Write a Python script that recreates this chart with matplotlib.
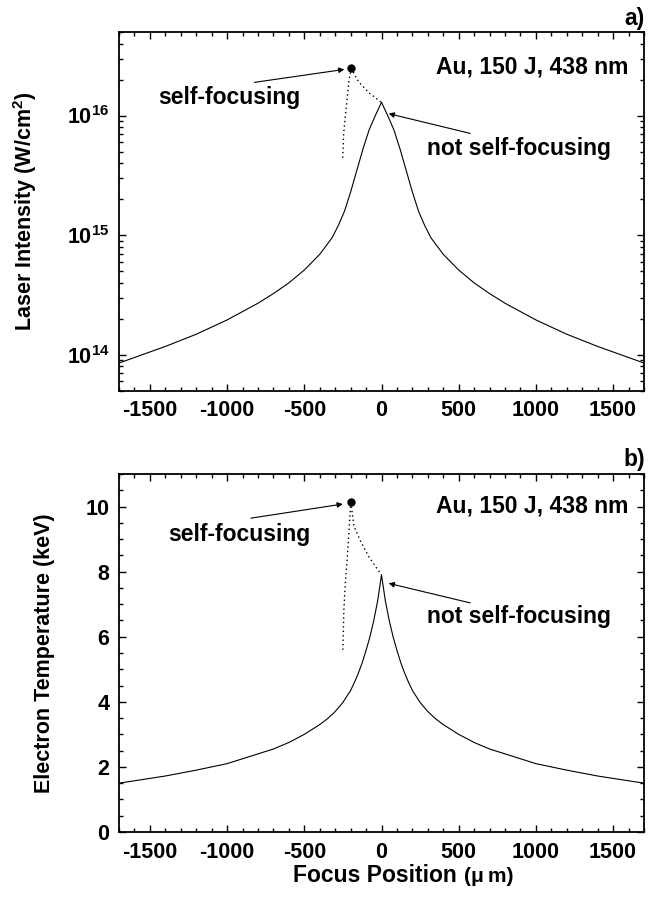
import matplotlib
matplotlib.use("Agg")
import matplotlib.pyplot as plt
from matplotlib.ticker import MultipleLocator, LogLocator, NullFormatter

plt.rcParams['font.family'] = ['Liberation Sans', 'DejaVu Sans']
plt.rcParams['font.weight'] = 'bold'
plt.rcParams['axes.unicode_minus'] = False
plt.rcParams['mathtext.fontset'] = 'custom'
plt.rcParams['mathtext.rm'] = 'Liberation Sans:bold'
plt.rcParams['mathtext.bf'] = 'Liberation Sans:bold'
plt.rcParams['mathtext.it'] = 'Liberation Sans:bold:italic'

# focus position (um)
pos = [-1700, -1400, -1200, -1000, -800, -700, -600, -500, -400, -320, -280, -240,
       -200, -160, -120, -80, -40, 0, 40, 80, 120, 160, 200, 240, 280, 320,
       400, 500, 600, 700, 800, 1000, 1200, 1400, 1700]

# laser intensity, not self-focusing (W/cm^2)
intensity = [8.5e13, 1.17e14, 1.48e14, 1.95e14, 2.69e14, 3.24e14, 3.98e14, 5.1e14,
             6.9e14, 9.5e14, 1.2e15, 1.58e15, 2.29e15, 3.47e15, 5.25e15, 7.6e15,
             1.0e16, 1.29e16, 1.0e16, 7.6e15, 5.25e15, 3.47e15, 2.29e15, 1.58e15,
             1.2e15, 9.5e14, 6.9e14, 5.1e14, 3.98e14, 3.24e14, 2.69e14, 1.95e14,
             1.48e14, 1.17e14, 8.5e13]

# position grid for the temperature curve (um)
pos_t = [-1700, -1400, -1200, -1000, -900, -800, -700, -600, -500, -400, -350,
         -300, -250, -200, -175, -150, -125, -100, -75, -50, -25, 0, 25, 50, 75,
         100, 125, 150, 175, 200, 250, 300, 350, 400, 500, 600, 700, 800, 900,
         1000, 1200, 1400, 1700]

# electron temperature, not self-focusing (keV)
temperature = [1.5, 1.72, 1.9, 2.1, 2.25, 2.4, 2.55, 2.75, 3.0, 3.3, 3.48, 3.7,
               3.98, 4.35, 4.6, 4.88, 5.2, 5.58, 6.0, 6.5, 7.1, 7.9, 7.1, 6.5, 6.0,
               5.58, 5.2, 4.88, 4.6, 4.35, 3.98, 3.7, 3.48, 3.3, 3.0, 2.75, 2.55,
               2.4, 2.25, 2.1, 1.9, 1.72, 1.5]

# self-focusing branches (dotted)
sf_diag_pos_a = [-195, -170, -146, -110, -81, -40, 0]
sf_diag_int = [2.5e16, 2.14e16, 1.9e16, 1.7e16, 1.55e16, 1.41e16, 1.29e16]
sf_vert_pos_a = [-195, -210, -230, -245, -252]
sf_vert_int = [2.5e16, 2.0e16, 1.12e16, 7.1e15, 4.2e15]

sf_diag_pos_b = [-199, -178, -135, -81, -27, 0]
sf_diag_temp = [10.14, 9.39, 8.93, 8.45, 8.08, 7.9]
sf_vert_pos_b = [-199, -210, -222, -235, -244, -250]
sf_vert_temp = [10.14, 9.3, 8.4, 7.6, 6.8, 5.6]

fig = plt.figure(figsize=(6.55, 9.01), dpi=100)
ax1 = fig.add_axes([0.1817, 0.5665, 0.8015, 0.398])
ax2 = fig.add_axes([0.1817, 0.0766, 0.8015, 0.3973])

dot = (0, (1, 2.2))
note = 16.5
arrow = dict(arrowstyle='-|>', lw=0.8, color='black', mutation_scale=8)

# ---- panel a ----
ax1.plot(pos, intensity, color='black', lw=0.8)
ax1.plot(sf_diag_pos_a, sf_diag_int, color='black', lw=1.0, linestyle=dot)
ax1.plot(sf_vert_pos_a, sf_vert_int, color='black', lw=1.0, linestyle=dot)
ax1.plot(sf_diag_pos_a[0], sf_diag_int[0], 'o', color='black', ms=5)
ax1.set_yscale('log')
ax1.set_ylim(5e13, 5e16)
ax1.yaxis.set_major_locator(LogLocator(base=10, numticks=10))
ax1.yaxis.set_minor_locator(LogLocator(base=10, subs=range(2, 10), numticks=20))
ax1.yaxis.set_minor_formatter(NullFormatter())
ax1.set_ylabel(r'Laser Intensity (W/cm$^{2}$)', fontsize=15.5, fontweight='bold')
ax1.yaxis.set_label_coords(-0.153, 0.5)

ax1.text(1602, 2.55e16, 'Au, 150 J, 438 nm', ha='right', va='center', fontsize=note)
ax1.text(-987, 1.41e16, 'self-focusing', ha='center', va='center', fontsize=note)
ax1.text(890, 5.25e15, 'not self-focusing', ha='center', va='center', fontsize=note)
ax1.annotate('', xy=(-223, 2.45e16), xytext=(-841, 1.88e16), arrowprops=arrow)
ax1.annotate('', xy=(29, 1.05e16), xytext=(592, 7.0e15), arrowprops=arrow)
ax1.text(1.002, 1.037, 'a)', transform=ax1.transAxes, ha='right', va='center', fontsize=note)

# ---- panel b ----
ax2.plot(pos_t, temperature, color='black', lw=0.8)
ax2.plot(sf_diag_pos_b, sf_diag_temp, color='black', lw=1.0, linestyle=dot)
ax2.plot(sf_vert_pos_b, sf_vert_temp, color='black', lw=1.0, linestyle=dot)
ax2.plot(sf_diag_pos_b[0], sf_diag_temp[0], 'o', color='black', ms=5)
ax2.set_ylim(0, 11)
ax2.yaxis.set_major_locator(MultipleLocator(2))
ax2.yaxis.set_minor_locator(MultipleLocator(0.5))
ax2.set_ylabel('Electron Temperature (keV)', fontsize=15.5, fontweight='bold')
ax2.yaxis.set_label_coords(-0.121, 0.5)

ax2.text(1602, 10.01, 'Au, 150 J, 438 nm', ha='right', va='center', fontsize=note)
ax2.text(-921, 9.14, 'self-focusing', ha='center', va='center', fontsize=note)
ax2.text(890, 6.63, 'not self-focusing', ha='center', va='center', fontsize=note)
ax2.annotate('', xy=(-233, 10.09), xytext=(-864, 9.63), arrowprops=arrow)
ax2.annotate('', xy=(29, 7.66), xytext=(592, 7.02), arrowprops=arrow)
ax2.text(1.002, 1.04, 'b)', transform=ax2.transAxes, ha='right', va='center', fontsize=note)

# x label: "Focus Position" with a smaller "(um)"
fig.text(293 / 655, 1 - 882 / 901, 'Focus Position', ha='left', va='baseline',
         fontsize=note, fontweight='bold')
fig.text(464 / 655, 1 - 882 / 901, '(\u03bc\u2009m)', ha='left', va='baseline',
         fontsize=15, fontweight='bold')

for ax in (ax1, ax2):
    ax.set_xlim(-1700, 1700)
    ax.xaxis.set_major_locator(MultipleLocator(500))
    ax.xaxis.set_minor_locator(MultipleLocator(100))
    ax.tick_params(which='both', direction='in', top=True, right=True, width=1.0)
    ax.tick_params(which='major', length=5, labelsize=15.5, pad=7)
    ax.tick_params(which='minor', length=3)
    for s in ax.spines.values():
        s.set_linewidth(1.3)
    for lab in ax.get_xticklabels() + ax.get_yticklabels():
        lab.set_fontweight('bold')

fig.savefig('out.png', dpi=100)
